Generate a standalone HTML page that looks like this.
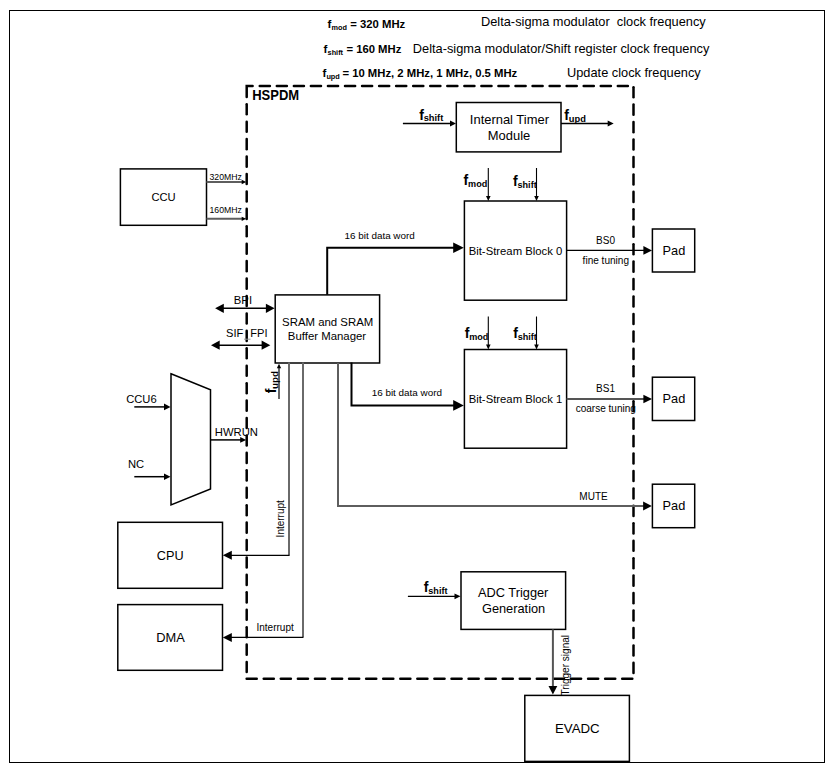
<!DOCTYPE html>
<html><head><meta charset="utf-8"><style>
html,body{margin:0;padding:0;background:#fff;width:830px;height:768px;overflow:hidden}
svg{display:block;font-family:"Liberation Sans", sans-serif}
</style></head><body>
<svg width="830" height="768" viewBox="0 0 830 768">
<rect x="0" y="0" width="830" height="768" fill="#fff"/>
<rect x="9.5" y="10.5" width="815.0" height="752.0" fill="none" stroke="#000" stroke-width="1"/>
<text x="327.5" y="27.8" font-size="11.5" font-weight="bold" text-anchor="start" fill="#000" >f</text>
<text x="331.5" y="30.0" font-size="7.3" font-weight="bold" text-anchor="start" fill="#000" >mod</text>
<text x="350.3" y="27.8" font-size="11.3" font-weight="bold" text-anchor="start" fill="#000" >= 320 MHz</text>
<text x="481.0" y="25.7" font-size="12.8" font-weight="normal" text-anchor="start" fill="#000" >Delta-sigma modulator&#160; clock frequency</text>
<text x="323.6" y="52.8" font-size="11.5" font-weight="bold" text-anchor="start" fill="#000" >f</text>
<text x="327.6" y="55.0" font-size="7.3" font-weight="bold" text-anchor="start" fill="#000" >shift</text>
<text x="346.4" y="52.8" font-size="11.3" font-weight="bold" text-anchor="start" fill="#000" >= 160 MHz</text>
<text x="412.8" y="52.6" font-size="12.8" font-weight="normal" text-anchor="start" fill="#000" >Delta-sigma modulator/Shift register clock frequency</text>
<text x="322.4" y="76.6" font-size="11.5" font-weight="bold" text-anchor="start" fill="#000" >f</text>
<text x="326.4" y="78.8" font-size="7.3" font-weight="bold" text-anchor="start" fill="#000" >upd</text>
<text x="342.4" y="76.6" font-size="11.3" font-weight="bold" text-anchor="start" fill="#000" >= 10 MHz, 2 MHz, 1 MHz, 0.5 MHz</text>
<text x="567.0" y="76.6" font-size="12.8" font-weight="normal" text-anchor="start" fill="#000" >Update clock frequency</text>
<path d="M246.7,97.0 V86.0 H252.6" fill="none" stroke="#000" stroke-width="2.5" stroke-linecap="round" stroke-linejoin="miter"/>
<line x1="259.75" y1="86.0" x2="269.85" y2="86.0" stroke="#000" stroke-width="2.5" stroke-linecap="round"/>
<line x1="276.80" y1="86.0" x2="286.90" y2="86.0" stroke="#000" stroke-width="2.5" stroke-linecap="round"/>
<line x1="293.85" y1="86.0" x2="303.95" y2="86.0" stroke="#000" stroke-width="2.5" stroke-linecap="round"/>
<line x1="310.90" y1="86.0" x2="321.00" y2="86.0" stroke="#000" stroke-width="2.5" stroke-linecap="round"/>
<line x1="327.95" y1="86.0" x2="338.05" y2="86.0" stroke="#000" stroke-width="2.5" stroke-linecap="round"/>
<line x1="345.00" y1="86.0" x2="355.10" y2="86.0" stroke="#000" stroke-width="2.5" stroke-linecap="round"/>
<line x1="362.05" y1="86.0" x2="372.15" y2="86.0" stroke="#000" stroke-width="2.5" stroke-linecap="round"/>
<line x1="379.10" y1="86.0" x2="389.20" y2="86.0" stroke="#000" stroke-width="2.5" stroke-linecap="round"/>
<line x1="396.15" y1="86.0" x2="406.25" y2="86.0" stroke="#000" stroke-width="2.5" stroke-linecap="round"/>
<line x1="413.20" y1="86.0" x2="423.30" y2="86.0" stroke="#000" stroke-width="2.5" stroke-linecap="round"/>
<line x1="430.25" y1="86.0" x2="440.35" y2="86.0" stroke="#000" stroke-width="2.5" stroke-linecap="round"/>
<line x1="447.30" y1="86.0" x2="457.40" y2="86.0" stroke="#000" stroke-width="2.5" stroke-linecap="round"/>
<line x1="464.35" y1="86.0" x2="474.45" y2="86.0" stroke="#000" stroke-width="2.5" stroke-linecap="round"/>
<line x1="481.40" y1="86.0" x2="491.50" y2="86.0" stroke="#000" stroke-width="2.5" stroke-linecap="round"/>
<line x1="498.45" y1="86.0" x2="508.55" y2="86.0" stroke="#000" stroke-width="2.5" stroke-linecap="round"/>
<line x1="515.50" y1="86.0" x2="525.60" y2="86.0" stroke="#000" stroke-width="2.5" stroke-linecap="round"/>
<line x1="532.55" y1="86.0" x2="542.65" y2="86.0" stroke="#000" stroke-width="2.5" stroke-linecap="round"/>
<line x1="549.60" y1="86.0" x2="559.70" y2="86.0" stroke="#000" stroke-width="2.5" stroke-linecap="round"/>
<line x1="566.65" y1="86.0" x2="576.75" y2="86.0" stroke="#000" stroke-width="2.5" stroke-linecap="round"/>
<line x1="583.70" y1="86.0" x2="593.80" y2="86.0" stroke="#000" stroke-width="2.5" stroke-linecap="round"/>
<line x1="600.75" y1="86.0" x2="610.85" y2="86.0" stroke="#000" stroke-width="2.5" stroke-linecap="round"/>
<line x1="617.80" y1="86.0" x2="627.90" y2="86.0" stroke="#000" stroke-width="2.5" stroke-linecap="round"/>
<line x1="633.5" y1="87.15" x2="633.5" y2="97.25" stroke="#000" stroke-width="2.5" stroke-linecap="round"/>
<line x1="633.5" y1="104.59" x2="633.5" y2="114.69" stroke="#000" stroke-width="2.5" stroke-linecap="round"/>
<line x1="633.5" y1="122.04" x2="633.5" y2="132.14" stroke="#000" stroke-width="2.5" stroke-linecap="round"/>
<line x1="633.5" y1="139.49" x2="633.5" y2="149.59" stroke="#000" stroke-width="2.5" stroke-linecap="round"/>
<line x1="633.5" y1="156.93" x2="633.5" y2="167.03" stroke="#000" stroke-width="2.5" stroke-linecap="round"/>
<line x1="633.5" y1="174.38" x2="633.5" y2="184.47" stroke="#000" stroke-width="2.5" stroke-linecap="round"/>
<line x1="633.5" y1="191.82" x2="633.5" y2="201.92" stroke="#000" stroke-width="2.5" stroke-linecap="round"/>
<line x1="633.5" y1="209.27" x2="633.5" y2="219.37" stroke="#000" stroke-width="2.5" stroke-linecap="round"/>
<line x1="633.5" y1="226.71" x2="633.5" y2="236.81" stroke="#000" stroke-width="2.5" stroke-linecap="round"/>
<line x1="633.5" y1="244.16" x2="633.5" y2="254.25" stroke="#000" stroke-width="2.5" stroke-linecap="round"/>
<line x1="633.5" y1="261.60" x2="633.5" y2="271.70" stroke="#000" stroke-width="2.5" stroke-linecap="round"/>
<line x1="633.5" y1="279.05" x2="633.5" y2="289.15" stroke="#000" stroke-width="2.5" stroke-linecap="round"/>
<line x1="633.5" y1="296.49" x2="633.5" y2="306.59" stroke="#000" stroke-width="2.5" stroke-linecap="round"/>
<line x1="633.5" y1="313.94" x2="633.5" y2="324.04" stroke="#000" stroke-width="2.5" stroke-linecap="round"/>
<line x1="633.5" y1="331.38" x2="633.5" y2="341.48" stroke="#000" stroke-width="2.5" stroke-linecap="round"/>
<line x1="633.5" y1="348.83" x2="633.5" y2="358.93" stroke="#000" stroke-width="2.5" stroke-linecap="round"/>
<line x1="633.5" y1="366.27" x2="633.5" y2="376.37" stroke="#000" stroke-width="2.5" stroke-linecap="round"/>
<line x1="633.5" y1="383.72" x2="633.5" y2="393.82" stroke="#000" stroke-width="2.5" stroke-linecap="round"/>
<line x1="633.5" y1="401.16" x2="633.5" y2="411.26" stroke="#000" stroke-width="2.5" stroke-linecap="round"/>
<line x1="633.5" y1="418.61" x2="633.5" y2="428.71" stroke="#000" stroke-width="2.5" stroke-linecap="round"/>
<line x1="633.5" y1="436.05" x2="633.5" y2="446.15" stroke="#000" stroke-width="2.5" stroke-linecap="round"/>
<line x1="633.5" y1="453.50" x2="633.5" y2="463.60" stroke="#000" stroke-width="2.5" stroke-linecap="round"/>
<line x1="633.5" y1="470.94" x2="633.5" y2="481.04" stroke="#000" stroke-width="2.5" stroke-linecap="round"/>
<line x1="633.5" y1="488.38" x2="633.5" y2="498.49" stroke="#000" stroke-width="2.5" stroke-linecap="round"/>
<line x1="633.5" y1="505.83" x2="633.5" y2="515.93" stroke="#000" stroke-width="2.5" stroke-linecap="round"/>
<line x1="633.5" y1="523.27" x2="633.5" y2="533.38" stroke="#000" stroke-width="2.5" stroke-linecap="round"/>
<line x1="633.5" y1="540.72" x2="633.5" y2="550.82" stroke="#000" stroke-width="2.5" stroke-linecap="round"/>
<line x1="633.5" y1="558.16" x2="633.5" y2="568.26" stroke="#000" stroke-width="2.5" stroke-linecap="round"/>
<line x1="633.5" y1="575.61" x2="633.5" y2="585.71" stroke="#000" stroke-width="2.5" stroke-linecap="round"/>
<line x1="633.5" y1="593.06" x2="633.5" y2="603.16" stroke="#000" stroke-width="2.5" stroke-linecap="round"/>
<line x1="633.5" y1="610.50" x2="633.5" y2="620.60" stroke="#000" stroke-width="2.5" stroke-linecap="round"/>
<line x1="633.5" y1="627.94" x2="633.5" y2="638.04" stroke="#000" stroke-width="2.5" stroke-linecap="round"/>
<line x1="633.5" y1="645.39" x2="633.5" y2="655.49" stroke="#000" stroke-width="2.5" stroke-linecap="round"/>
<line x1="633.5" y1="662.84" x2="633.5" y2="672.94" stroke="#000" stroke-width="2.5" stroke-linecap="round"/>
<line x1="246.65" y1="678.8" x2="256.75" y2="678.8" stroke="#000" stroke-width="2.5" stroke-linecap="round"/>
<line x1="263.72" y1="678.8" x2="273.82" y2="678.8" stroke="#000" stroke-width="2.5" stroke-linecap="round"/>
<line x1="280.79" y1="678.8" x2="290.89" y2="678.8" stroke="#000" stroke-width="2.5" stroke-linecap="round"/>
<line x1="297.86" y1="678.8" x2="307.96" y2="678.8" stroke="#000" stroke-width="2.5" stroke-linecap="round"/>
<line x1="314.93" y1="678.8" x2="325.03" y2="678.8" stroke="#000" stroke-width="2.5" stroke-linecap="round"/>
<line x1="332.00" y1="678.8" x2="342.10" y2="678.8" stroke="#000" stroke-width="2.5" stroke-linecap="round"/>
<line x1="349.07" y1="678.8" x2="359.17" y2="678.8" stroke="#000" stroke-width="2.5" stroke-linecap="round"/>
<line x1="366.14" y1="678.8" x2="376.24" y2="678.8" stroke="#000" stroke-width="2.5" stroke-linecap="round"/>
<line x1="383.21" y1="678.8" x2="393.31" y2="678.8" stroke="#000" stroke-width="2.5" stroke-linecap="round"/>
<line x1="400.28" y1="678.8" x2="410.38" y2="678.8" stroke="#000" stroke-width="2.5" stroke-linecap="round"/>
<line x1="417.35" y1="678.8" x2="427.45" y2="678.8" stroke="#000" stroke-width="2.5" stroke-linecap="round"/>
<line x1="434.42" y1="678.8" x2="444.52" y2="678.8" stroke="#000" stroke-width="2.5" stroke-linecap="round"/>
<line x1="451.49" y1="678.8" x2="461.59" y2="678.8" stroke="#000" stroke-width="2.5" stroke-linecap="round"/>
<line x1="468.56" y1="678.8" x2="478.66" y2="678.8" stroke="#000" stroke-width="2.5" stroke-linecap="round"/>
<line x1="485.63" y1="678.8" x2="495.73" y2="678.8" stroke="#000" stroke-width="2.5" stroke-linecap="round"/>
<line x1="502.70" y1="678.8" x2="512.80" y2="678.8" stroke="#000" stroke-width="2.5" stroke-linecap="round"/>
<line x1="519.77" y1="678.8" x2="529.87" y2="678.8" stroke="#000" stroke-width="2.5" stroke-linecap="round"/>
<line x1="536.84" y1="678.8" x2="546.94" y2="678.8" stroke="#000" stroke-width="2.5" stroke-linecap="round"/>
<line x1="553.91" y1="678.8" x2="564.01" y2="678.8" stroke="#000" stroke-width="2.5" stroke-linecap="round"/>
<line x1="570.98" y1="678.8" x2="581.08" y2="678.8" stroke="#000" stroke-width="2.5" stroke-linecap="round"/>
<line x1="588.05" y1="678.8" x2="598.15" y2="678.8" stroke="#000" stroke-width="2.5" stroke-linecap="round"/>
<line x1="605.12" y1="678.8" x2="615.22" y2="678.8" stroke="#000" stroke-width="2.5" stroke-linecap="round"/>
<line x1="622.19" y1="678.8" x2="632.29" y2="678.8" stroke="#000" stroke-width="2.5" stroke-linecap="round"/>
<line x1="246.7" y1="104.25" x2="246.7" y2="114.35" stroke="#000" stroke-width="2.5" stroke-linecap="round"/>
<line x1="246.7" y1="121.68" x2="246.7" y2="131.78" stroke="#000" stroke-width="2.5" stroke-linecap="round"/>
<line x1="246.7" y1="139.11" x2="246.7" y2="149.21" stroke="#000" stroke-width="2.5" stroke-linecap="round"/>
<line x1="246.7" y1="156.54" x2="246.7" y2="166.64" stroke="#000" stroke-width="2.5" stroke-linecap="round"/>
<line x1="246.7" y1="173.97" x2="246.7" y2="184.07" stroke="#000" stroke-width="2.5" stroke-linecap="round"/>
<line x1="246.7" y1="191.40" x2="246.7" y2="201.50" stroke="#000" stroke-width="2.5" stroke-linecap="round"/>
<line x1="246.7" y1="208.83" x2="246.7" y2="218.93" stroke="#000" stroke-width="2.5" stroke-linecap="round"/>
<line x1="246.7" y1="226.26" x2="246.7" y2="236.36" stroke="#000" stroke-width="2.5" stroke-linecap="round"/>
<line x1="246.7" y1="243.69" x2="246.7" y2="253.79" stroke="#000" stroke-width="2.5" stroke-linecap="round"/>
<line x1="246.7" y1="261.12" x2="246.7" y2="271.22" stroke="#000" stroke-width="2.5" stroke-linecap="round"/>
<line x1="246.7" y1="278.55" x2="246.7" y2="288.65" stroke="#000" stroke-width="2.5" stroke-linecap="round"/>
<line x1="246.7" y1="295.98" x2="246.7" y2="306.08" stroke="#000" stroke-width="2.5" stroke-linecap="round"/>
<line x1="246.7" y1="313.41" x2="246.7" y2="323.51" stroke="#000" stroke-width="2.5" stroke-linecap="round"/>
<line x1="246.7" y1="330.84" x2="246.7" y2="340.94" stroke="#000" stroke-width="2.5" stroke-linecap="round"/>
<line x1="246.7" y1="348.27" x2="246.7" y2="358.37" stroke="#000" stroke-width="2.5" stroke-linecap="round"/>
<line x1="246.7" y1="365.70" x2="246.7" y2="375.80" stroke="#000" stroke-width="2.5" stroke-linecap="round"/>
<line x1="246.7" y1="383.13" x2="246.7" y2="393.23" stroke="#000" stroke-width="2.5" stroke-linecap="round"/>
<line x1="246.7" y1="400.56" x2="246.7" y2="410.66" stroke="#000" stroke-width="2.5" stroke-linecap="round"/>
<line x1="246.7" y1="417.99" x2="246.7" y2="428.09" stroke="#000" stroke-width="2.5" stroke-linecap="round"/>
<line x1="246.7" y1="435.42" x2="246.7" y2="445.52" stroke="#000" stroke-width="2.5" stroke-linecap="round"/>
<line x1="246.7" y1="452.85" x2="246.7" y2="462.95" stroke="#000" stroke-width="2.5" stroke-linecap="round"/>
<line x1="246.7" y1="470.28" x2="246.7" y2="480.38" stroke="#000" stroke-width="2.5" stroke-linecap="round"/>
<line x1="246.7" y1="487.71" x2="246.7" y2="497.81" stroke="#000" stroke-width="2.5" stroke-linecap="round"/>
<line x1="246.7" y1="505.14" x2="246.7" y2="515.24" stroke="#000" stroke-width="2.5" stroke-linecap="round"/>
<line x1="246.7" y1="522.57" x2="246.7" y2="532.67" stroke="#000" stroke-width="2.5" stroke-linecap="round"/>
<line x1="246.7" y1="540.00" x2="246.7" y2="550.10" stroke="#000" stroke-width="2.5" stroke-linecap="round"/>
<line x1="246.7" y1="557.43" x2="246.7" y2="567.53" stroke="#000" stroke-width="2.5" stroke-linecap="round"/>
<line x1="246.7" y1="574.86" x2="246.7" y2="584.96" stroke="#000" stroke-width="2.5" stroke-linecap="round"/>
<line x1="246.7" y1="592.29" x2="246.7" y2="602.39" stroke="#000" stroke-width="2.5" stroke-linecap="round"/>
<line x1="246.7" y1="609.72" x2="246.7" y2="619.82" stroke="#000" stroke-width="2.5" stroke-linecap="round"/>
<line x1="246.7" y1="627.15" x2="246.7" y2="637.25" stroke="#000" stroke-width="2.5" stroke-linecap="round"/>
<line x1="246.7" y1="644.58" x2="246.7" y2="654.68" stroke="#000" stroke-width="2.5" stroke-linecap="round"/>
<line x1="246.7" y1="662.01" x2="246.7" y2="672.11" stroke="#000" stroke-width="2.5" stroke-linecap="round"/>
<text transform="translate(252.2,99.8) scale(1,1.07)" font-size="13" font-weight="bold" text-anchor="start" fill="#000" >HSPDM</text>
<rect x="456.3" y="102.5" width="104.69999999999999" height="49.400000000000006" fill="none" stroke="#000" stroke-width="1.5"/>
<text x="509.4" y="123.9" font-size="12.95" font-weight="normal" text-anchor="middle" fill="#000" >Internal Timer</text>
<text x="509.0" y="139.6" font-size="12.95" font-weight="normal" text-anchor="middle" fill="#000" >Module</text>
<line x1="402.9" y1="123.5" x2="450.5" y2="123.5" stroke="#000" stroke-width="1.3" stroke-linecap="butt"/>
<polygon points="456.0,123.5 450.0,120.5 450.0,126.5" fill="#000"/>
<text x="419.2" y="119.9" font-size="14" font-weight="bold" text-anchor="start" fill="#000" >f</text>
<text x="423.7" y="120.9" font-size="9.3" font-weight="bold" text-anchor="start" fill="#000" >shift</text>
<line x1="561.0" y1="123.5" x2="608.5" y2="123.5" stroke="#000" stroke-width="1.3" stroke-linecap="butt"/>
<polygon points="613.7,123.5 607.7,120.5 607.7,126.5" fill="#000"/>
<text x="564.3" y="119.6" font-size="14" font-weight="bold" text-anchor="start" fill="#000" >f</text>
<text x="568.8" y="121.6" font-size="9.3" font-weight="bold" text-anchor="start" fill="#000" >upd</text>
<rect x="120.4" y="168.9" width="86.1" height="56.400000000000006" fill="none" stroke="#000" stroke-width="1.5"/>
<text x="163.5" y="201.2" font-size="11.2" font-weight="normal" text-anchor="middle" fill="#000" >CCU</text>
<line x1="206.5" y1="182.0" x2="242" y2="182.0" stroke="#5e5e5e" stroke-width="2" stroke-linecap="butt"/>
<polygon points="246.2,182.0 241.7,179.8 241.7,184.2" fill="#000"/>
<line x1="206.5" y1="218.85" x2="242" y2="218.85" stroke="#5e5e5e" stroke-width="2" stroke-linecap="butt"/>
<polygon points="246.2,218.85 241.7,216.65 241.7,221.04999999999998" fill="#000"/>
<text x="209.5" y="179.8" font-size="8.7" font-weight="normal" text-anchor="start" fill="#000" >320MHz</text>
<text x="209.5" y="212.7" font-size="8.7" font-weight="normal" text-anchor="start" fill="#000" >160MHz</text>
<rect x="464.4" y="201.0" width="102.20000000000005" height="99.19999999999999" fill="none" stroke="#000" stroke-width="1.5"/>
<text x="468.7" y="255.0" font-size="11.3" font-weight="normal" text-anchor="start" fill="#000" >Bit-Stream Block 0</text>
<line x1="488.3" y1="168.0" x2="488.3" y2="196.5" stroke="#000" stroke-width="1.1" stroke-linecap="butt"/>
<polygon points="488.3,201.0 486.0,196.0 490.6,196.0" fill="#000"/>
<line x1="536.5" y1="168.0" x2="536.5" y2="196.5" stroke="#000" stroke-width="1.1" stroke-linecap="butt"/>
<polygon points="536.5,201.0 534.2,196.0 538.8,196.0" fill="#000"/>
<text x="463.6" y="184.9" font-size="14" font-weight="bold" text-anchor="start" fill="#000" >f</text>
<text x="468.1" y="186.9" font-size="9.1" font-weight="bold" text-anchor="start" fill="#000" >mod</text>
<text x="513.0" y="185.7" font-size="14" font-weight="bold" text-anchor="start" fill="#000" >f</text>
<text x="517.5" y="187.7" font-size="9.1" font-weight="bold" text-anchor="start" fill="#000" >shift</text>
<line x1="566.6" y1="250.4" x2="644" y2="250.4" stroke="#000" stroke-width="1.2" stroke-linecap="butt"/>
<polygon points="652.0,250.4 643.4,246.1 643.4,254.70000000000002" fill="#000"/>
<text x="605.5" y="243.9" font-size="10.0" font-weight="normal" text-anchor="middle" fill="#000" >BS0</text>
<text x="605.8" y="264.0" font-size="10.05" font-weight="normal" text-anchor="middle" fill="#000" >fine tuning</text>
<rect x="464.4" y="349.5" width="102.20000000000005" height="98.69999999999999" fill="none" stroke="#000" stroke-width="1.5"/>
<text x="468.7" y="402.9" font-size="11.3" font-weight="normal" text-anchor="start" fill="#000" >Bit-Stream Block 1</text>
<line x1="488.3" y1="316.5" x2="488.3" y2="345.0" stroke="#000" stroke-width="1.1" stroke-linecap="butt"/>
<polygon points="488.3,349.5 486.0,344.5 490.6,344.5" fill="#000"/>
<line x1="536.5" y1="316.5" x2="536.5" y2="345.0" stroke="#000" stroke-width="1.1" stroke-linecap="butt"/>
<polygon points="536.5,349.5 534.2,344.5 538.8,344.5" fill="#000"/>
<text x="464.7" y="338.0" font-size="14" font-weight="bold" text-anchor="start" fill="#000" >f</text>
<text x="469.2" y="340.0" font-size="9.1" font-weight="bold" text-anchor="start" fill="#000" >mod</text>
<text x="513.2" y="338.3" font-size="14" font-weight="bold" text-anchor="start" fill="#000" >f</text>
<text x="517.7" y="340.3" font-size="9.1" font-weight="bold" text-anchor="start" fill="#000" >shift</text>
<line x1="566.6" y1="399.0" x2="644" y2="399.0" stroke="#555" stroke-width="2" stroke-linecap="butt"/>
<polygon points="652.0,399.0 643.4,394.7 643.4,403.3" fill="#000"/>
<text x="605.5" y="391.7" font-size="10.0" font-weight="normal" text-anchor="middle" fill="#000" >BS1</text>
<text x="605.8" y="412.3" font-size="10.05" font-weight="normal" text-anchor="middle" fill="#000" >coarse tuning</text>
<rect x="652.4" y="229.0" width="42.30000000000007" height="43.0" fill="none" stroke="#000" stroke-width="1.5"/>
<text x="673.9" y="254.6" font-size="12.75" font-weight="normal" text-anchor="middle" fill="#000" >Pad</text>
<rect x="652.4" y="377.2" width="42.30000000000007" height="43.30000000000001" fill="none" stroke="#000" stroke-width="1.5"/>
<text x="673.9" y="402.5" font-size="12.75" font-weight="normal" text-anchor="middle" fill="#000" >Pad</text>
<rect x="652.4" y="484.2" width="42.30000000000007" height="43.50000000000006" fill="none" stroke="#000" stroke-width="1.5"/>
<text x="673.9" y="509.8" font-size="12.75" font-weight="normal" text-anchor="middle" fill="#000" >Pad</text>
<rect x="275.2" y="294.9" width="104.40000000000003" height="68.10000000000002" fill="none" stroke="#000" stroke-width="1.5"/>
<text x="327.7" y="325.9" font-size="11.4" font-weight="normal" text-anchor="middle" fill="#000" >SRAM and SRAM</text>
<text x="327.0" y="339.5" font-size="11.4" font-weight="normal" text-anchor="middle" fill="#000" >Buffer Manager</text>
<path d="M327.2,294.8 V247.7 H455" fill="none" stroke="#000" stroke-width="2" stroke-linejoin="miter"/>
<polygon points="463.8,247.7 453.2,242.39999999999998 453.2,253.0" fill="#000"/>
<text x="344.5" y="239.1" font-size="9.88" font-weight="normal" text-anchor="start" fill="#000" >16 bit data word</text>
<path d="M351.5,362.5 V405.4 H455" fill="none" stroke="#000" stroke-width="2" stroke-linejoin="miter"/>
<polygon points="463.8,405.4 453.2,400.09999999999997 453.2,410.7" fill="#000"/>
<text x="371.7" y="395.7" font-size="9.88" font-weight="normal" text-anchor="start" fill="#000" >16 bit data word</text>
<line x1="222" y1="308.3" x2="267" y2="308.3" stroke="#000" stroke-width="1.5" stroke-linecap="butt"/>
<polygon points="215.1,308.3 223.79999999999998,303.7 223.79999999999998,312.90000000000003" fill="#000"/>
<polygon points="274.6,308.3 265.90000000000003,303.7 265.90000000000003,312.90000000000003" fill="#000"/>
<text x="242.95" y="303.5" font-size="11.3" font-weight="normal" text-anchor="middle" fill="#000" >BPI</text>
<line x1="218" y1="345.2" x2="263" y2="345.2" stroke="#000" stroke-width="1.5" stroke-linecap="butt"/>
<polygon points="211.0,345.2 219.7,340.59999999999997 219.7,349.8" fill="#000"/>
<polygon points="270.3,345.2 261.6,340.59999999999997 261.6,349.8" fill="#000"/>
<text x="226.0" y="336.6" font-size="11.1" font-weight="normal" text-anchor="start" fill="#000" >SIF</text>
<text x="250.3" y="336.6" font-size="11.1" font-weight="normal" text-anchor="start" fill="#000" >FPI</text>
<line x1="244" y1="339.2" x2="250.5" y2="339.2" stroke="#999" stroke-width="1" stroke-linecap="butt"/>
<line x1="279.0" y1="368" x2="279.0" y2="398.9" stroke="#666" stroke-width="2" stroke-linecap="butt"/>
<polygon points="279.0,363.8 276.8,368.3 281.2,368.3" fill="#000"/>
<g transform="translate(275.6,393.2) rotate(-90)">
<text x="0" y="0" font-size="14" font-weight="bold" text-anchor="start" fill="#000" >f</text>
<text x="4.3" y="2.0" font-size="9.8" font-weight="bold" text-anchor="start" fill="#000" >upd</text>
</g>
<line x1="289" y1="362.5" x2="289" y2="555.4" stroke="#6a6a6a" stroke-width="2" stroke-linecap="butt"/>
<path d="M289.5,555.3 H231" fill="none" stroke="#000" stroke-width="1.3" stroke-linejoin="miter"/>
<polygon points="222.8,555.3 231.8,550.8 231.8,559.8" fill="#000"/>
<line x1="303" y1="362.5" x2="303" y2="637.0" stroke="#6a6a6a" stroke-width="2" stroke-linecap="butt"/>
<path d="M303.5,637.4 H231" fill="none" stroke="#000" stroke-width="1.3" stroke-linejoin="miter"/>
<polygon points="222.8,637.4 231.8,632.9 231.8,641.9" fill="#000"/>
<line x1="338.0" y1="363" x2="338.0" y2="505.0" stroke="#5e5e5e" stroke-width="2" stroke-linecap="butt"/>
<line x1="337.0" y1="506.0" x2="644" y2="506.0" stroke="#5e5e5e" stroke-width="2" stroke-linecap="butt"/>
<polygon points="651.8,506.0 643.0999999999999,501.5 643.0999999999999,510.5" fill="#000"/>
<text x="593.5" y="499.8" font-size="10.0" font-weight="normal" text-anchor="middle" fill="#000" >MUTE</text>
<g transform="translate(284.4,537.4) rotate(-90)">
<text x="0" y="0" font-size="10" font-weight="normal" text-anchor="start" fill="#000" >Interrupt</text>
</g>
<text x="256.5" y="631.2" font-size="10" font-weight="normal" text-anchor="start" fill="#000" >Interrupt</text>
<polygon points="171,373.8 210.5,389.8 210.5,489 171,505" fill="none" stroke="#000" stroke-width="1.5"/>
<line x1="134.3" y1="406.9" x2="165" y2="406.9" stroke="#000" stroke-width="1.5" stroke-linecap="butt"/>
<polygon points="170.5,406.9 164.0,403.59999999999997 164.0,410.2" fill="#000"/>
<line x1="134.3" y1="476.7" x2="165" y2="476.7" stroke="#000" stroke-width="1.5" stroke-linecap="butt"/>
<polygon points="170.5,476.7 164.0,473.4 164.0,480.0" fill="#000"/>
<text x="126.2" y="402.9" font-size="11.2" font-weight="normal" text-anchor="start" fill="#000" >CCU6</text>
<text x="128.0" y="467.7" font-size="11.2" font-weight="normal" text-anchor="start" fill="#000" >NC</text>
<line x1="210.5" y1="439.9" x2="241" y2="439.9" stroke="#000" stroke-width="1.5" stroke-linecap="butt"/>
<polygon points="246.2,439.9 240.2,437.0 240.2,442.79999999999995" fill="#000"/>
<text x="214.75" y="435.7" font-size="11.27" font-weight="normal" text-anchor="start" fill="#000" >HWRUN</text>
<rect x="117.8" y="522.3" width="104.7" height="66.0" fill="none" stroke="#000" stroke-width="1.5"/>
<text x="170.2" y="559.6" font-size="12.7" font-weight="normal" text-anchor="middle" fill="#000" >CPU</text>
<rect x="117.8" y="604.6" width="104.7" height="65.69999999999993" fill="none" stroke="#000" stroke-width="1.5"/>
<text x="170.6" y="641.7" font-size="12.85" font-weight="normal" text-anchor="middle" fill="#000" >DMA</text>
<rect x="461.0" y="571.8" width="104.60000000000002" height="57.60000000000002" fill="none" stroke="#000" stroke-width="1.5"/>
<text x="513.2" y="596.5" font-size="12.8" font-weight="normal" text-anchor="middle" fill="#000" >ADC Trigger</text>
<text x="513.6" y="613.0" font-size="12.8" font-weight="normal" text-anchor="middle" fill="#000" >Generation</text>
<line x1="407.9" y1="596.3" x2="455" y2="596.3" stroke="#000" stroke-width="1.3" stroke-linecap="butt"/>
<polygon points="460.5,596.3 454.5,593.4 454.5,599.1999999999999" fill="#000"/>
<text x="423.8" y="591.8" font-size="14" font-weight="bold" text-anchor="start" fill="#000" >f</text>
<text x="428.3" y="593.6999999999999" font-size="9.1" font-weight="bold" text-anchor="start" fill="#000" >shift</text>
<line x1="552.9" y1="629.4" x2="552.9" y2="687" stroke="#555" stroke-width="2" stroke-linecap="butt"/>
<polygon points="552.9,694.4 548.5,686.1 557.3,686.1" fill="#000"/>
<g transform="translate(568.7,695.4) rotate(-90)">
<text x="0" y="0" font-size="10.05" font-weight="normal" text-anchor="start" fill="#000" >Trigger signal</text>
</g>
<rect x="524.8" y="695.4" width="104.60000000000002" height="66.0" fill="none" stroke="#000" stroke-width="1.5"/>
<text x="577.3" y="732.8" font-size="13.3" font-weight="normal" text-anchor="middle" fill="#000" >EVADC</text>
</svg></body></html>
